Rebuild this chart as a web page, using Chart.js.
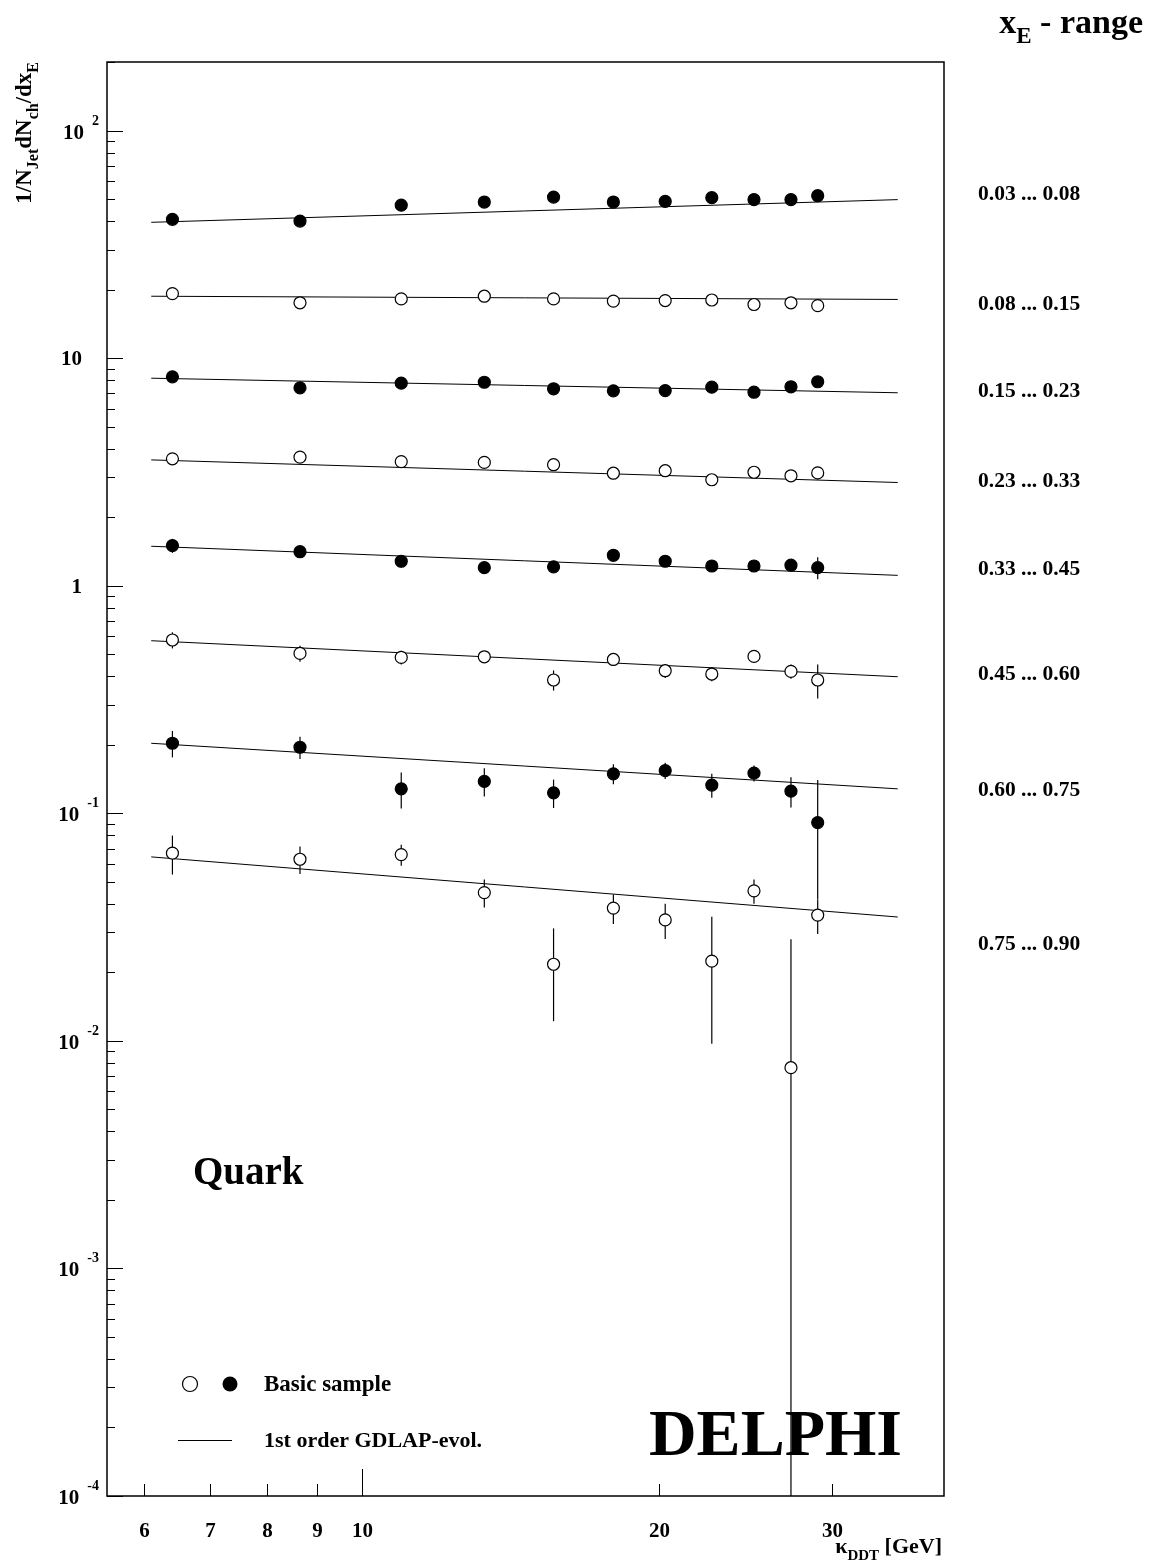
<!DOCTYPE html>
<html>
<head>
<meta charset="utf-8">
<script src="https://cdn.jsdelivr.net/npm/chart.js@4/dist/chart.umd.min.js"></script>
<style>
  html, body { margin: 0; padding: 0; background: #fff; }
  canvas { display: block; }
</style>
</head>
<body>
<canvas id="c" width="1152" height="1568"></canvas>
<script>
"use strict";

// kappa_DDT bin centres [GeV]
const kappa = [6.41, 8.64, 10.95, 13.3, 15.64, 17.99, 20.31, 22.65, 25.0, 27.26, 29.02];
// the GDLAP fit lines are drawn between these two kappa values
const fitKappa = [6.1, 35.0];

const rangeLabels = ["0.03 ... 0.08", "0.08 ... 0.15", "0.15 ... 0.23", "0.23 ... 0.33",
                     "0.33 ... 0.45", "0.45 ... 0.60", "0.60 ... 0.75", "0.75 ... 0.90"];

// 1/N dN/dx_E per x_E range, errors, and fit-line end values
const v0308 = [40.7, 40.0, 47.0, 48.5, 51.0, 48.5, 48.8, 50.7, 49.7, 49.7, 51.7];
const e0308 = [1.0, 1.0, 1.1, 1.1, 1.2, 1.1, 1.1, 1.2, 1.2, 1.2, 1.3];
const f0308 = [39.5, 49.7];

const v0815 = [19.2, 17.5, 18.2, 18.7, 18.2, 17.8, 17.9, 18.0, 17.2, 17.5, 17.0];
const e0815 = [0.4, 0.4, 0.4, 0.4, 0.4, 0.4, 0.4, 0.4, 0.4, 0.4, 0.5];
const f0815 = [18.7, 18.1];

const v1523 = [8.27, 7.40, 7.76, 7.83, 7.33, 7.18, 7.20, 7.45, 7.08, 7.48, 7.87];
const e1523 = [0.18, 0.17, 0.18, 0.18, 0.17, 0.17, 0.17, 0.18, 0.17, 0.18, 0.2];
const f1523 = [8.16, 7.04];

const v2333 = [3.61, 3.67, 3.51, 3.48, 3.40, 3.12, 3.20, 2.92, 3.15, 3.04, 3.13];
const e2333 = [0.12, 0.1, 0.1, 0.1, 0.1, 0.09, 0.1, 0.09, 0.1, 0.1, 0.2];
const f2333 = [3.57, 2.84];

const v3345 = [1.50, 1.41, 1.28, 1.20, 1.21, 1.36, 1.28, 1.22, 1.22, 1.23, 1.20];
const e3345 = [0.106, 0.085, 0.078, 0.06, 0.05, 0.05, 0.05, 0.05, 0.05, 0.05, 0.134];
const f3345 = [1.49, 1.11];

const v4560 = [0.577, 0.504, 0.484, 0.487, 0.385, 0.474, 0.423, 0.409, 0.489, 0.420, 0.385];
const e4560 = [0.047, 0.041, 0.034, 0.025, 0.039, 0.024, 0.030, 0.029, 0.020, 0.030, 0.066];
const f4560 = [0.573, 0.398];

const v6075 = [0.203, 0.195, 0.128, 0.138, 0.123, 0.149, 0.154, 0.133, 0.150, 0.125, 0.091];
const e6075 = [0.027, 0.022, 0.023, 0.0195, 0.0175, 0.015, 0.0125, 0.016, 0.012, 0.019, 0.049];
const f6075 = [0.203, 0.128];

const v7590 = [0.0668, 0.0628, 0.0658, 0.0448, 0.0217, 0.0383, 0.0340, 0.0224, 0.0456, 0.00762, 0.0357];
const e7590 = [0.013, 0.0087, 0.007, 0.0063, 0.0095, 0.0057, 0.006, 0.0127, 0.0056, 0.0203, 0.0062];
const f7590 = [0.0643, 0.0350];

// axis ticks
const xTicks = [6, 7, 8, 9, 10, 20, 30];
const yDecades = [-4, -3, -2, -1, 0, 1, 2];

const series = [
  [v0308, e0308, f0308, true],
  [v0815, e0815, f0815, false],
  [v1523, e1523, f1523, true],
  [v2333, e2333, f2333, false],
  [v3345, e3345, f3345, true],
  [v4560, e4560, f4560, false],
  [v6075, e6075, f6075, true],
  [v7590, e7590, f7590, false]
];

const SERIF = "'Liberation Serif', 'Times New Roman', serif";
const font = (px) => "bold " + px + "px " + SERIF;

const datasets = [];
series.forEach(([vals, errs, fit, filled], k) => {
  datasets.push({
    label: rangeLabels[k],
    data: kappa.map((x, i) => ({ x: x, y: vals[i] })),
    errs: errs,
    pointStyle: "circle",
    pointRadius: 6,
    pointBackgroundColor: filled ? "#000" : "#fff",
    pointBorderColor: "#000",
    pointBorderWidth: 1.2,
    showLine: false,
    order: 0
  });
  datasets.push({
    label: rangeLabels[k] + " fit",
    data: fitKappa.map((x, i) => ({ x: x, y: fit[i] })),
    showLine: true,
    borderColor: "#000",
    borderWidth: 1,
    pointRadius: 0,
    order: 1
  });
});

// text with sub/superscripts: parts = [[text, 0 normal | 1 sub | 2 sup], ...]
function rich(ctx, parts, x, y, size, align) {
  const pieces = parts.map(([t, k]) => {
    const s = k ? Math.round(size * 0.68) : size;
    ctx.font = font(s);
    return { t, s, dy: k === 1 ? size * 0.3 : (k === 2 ? -size * 0.45 : 0), w: ctx.measureText(t).width };
  });
  const total = pieces.reduce((a, p) => a + p.w, 0);
  let cx = align === "right" ? x - total : (align === "center" ? x - total / 2 : x);
  ctx.textAlign = "left";
  ctx.textBaseline = "alphabetic";
  pieces.forEach(p => {
    ctx.font = font(p.s);
    ctx.fillText(p.t, cx, y + p.dy);
    cx += p.w;
  });
}

const errorBars = {
  id: "errorBars",
  beforeDatasetsDraw(chart) {
    const { ctx, chartArea: a, scales: { x, y } } = chart;
    ctx.save();
    ctx.beginPath();
    ctx.rect(a.left, a.top, a.right - a.left, a.bottom - a.top);
    ctx.clip();
    ctx.strokeStyle = "#000";
    ctx.lineWidth = 1.2;
    chart.data.datasets.forEach(ds => {
      if (!ds.errs) return;
      ds.data.forEach((p, i) => {
        const lo = p.y - ds.errs[i];
        const px = x.getPixelForValue(p.x);
        const yTop = y.getPixelForValue(p.y + ds.errs[i]);
        const yBot = lo > 0 ? y.getPixelForValue(lo) : a.bottom;
        ctx.beginPath();
        ctx.moveTo(px, yTop);
        ctx.lineTo(px, yBot);
        ctx.stroke();
      });
    });
    ctx.restore();
  }
};

const frameAndText = {
  id: "frameAndText",
  afterDraw(chart) {
    const { ctx, chartArea: a, scales: { x, y } } = chart;
    ctx.save();
    ctx.fillStyle = "#000";
    ctx.strokeStyle = "#000";

    // frame
    ctx.lineWidth = 1.5;
    ctx.strokeRect(a.left, a.top, a.right - a.left, a.bottom - a.top);

    // y ticks (inside, left) and labels
    ctx.lineWidth = 1;
    yDecades.forEach(d => {
      for (let m = 1; m <= 9; m++) {
        const v = m * Math.pow(10, d);
        if (v > y.max || v < y.min) continue;
        const py = Math.round(y.getPixelForValue(v)) + 0.5;
        ctx.beginPath();
        ctx.moveTo(a.left, py);
        ctx.lineTo(a.left + (m === 1 ? 16 : 8), py);
        ctx.stroke();
      }
      const py = y.getPixelForValue(Math.pow(10, d));
      if (d === 0 || d === 1) {
        rich(ctx, [[d === 0 ? "1" : "10", 0]], 82, py + 7, 21, "right");
      } else {
        const exp = String(d);
        ctx.font = font(14);
        const ew = ctx.measureText(exp).width;
        rich(ctx, [[exp, 0]], 99, py - 6, 14, "right");
        rich(ctx, [["10", 0]], 99 - ew - 8, py + 8, 21, "right");
      }
    });

    // x ticks (inside, bottom) and labels
    xTicks.forEach(t => {
      const px = Math.round(x.getPixelForValue(t)) + 0.5;
      ctx.beginPath();
      ctx.moveTo(px, a.bottom);
      ctx.lineTo(px, a.bottom - (t === 10 ? 27 : 12));
      ctx.stroke();
      rich(ctx, [[String(t), 0]], px, 1537, 21, "center");
    });

    // axis titles
    rich(ctx, [["\u03BA", 0], ["DDT", 1], [" [GeV]", 0]], 942, 1553, 22, "right");
    ctx.save();
    ctx.translate(31, 62);
    ctx.rotate(-Math.PI / 2);
    rich(ctx, [["1/N", 0], ["Jet", 1], ["dN", 0], ["ch", 1], ["/dx", 0], ["E", 1]], 0, 0, 23, "right");
    ctx.restore();

    // range column
    rich(ctx, [["x", 0], ["E", 1], [" - range", 0]], 1143, 33, 34, "right");
    const rangeY = [200, 310, 397, 487, 575, 680, 796, 950];
    rangeLabels.forEach((t, k) => rich(ctx, [[t, 0]], 978, rangeY[k], 21.5, "left"));

    // legend
    ctx.lineWidth = 1.2;
    ctx.beginPath();
    ctx.arc(190, 1384, 7.5, 0, Math.PI * 2);
    ctx.fillStyle = "#fff";
    ctx.fill();
    ctx.stroke();
    ctx.fillStyle = "#000";
    ctx.beginPath();
    ctx.arc(230, 1384, 7.5, 0, Math.PI * 2);
    ctx.fill();
    ctx.lineWidth = 1;
    ctx.beginPath();
    ctx.moveTo(178, 1440.5);
    ctx.lineTo(232, 1440.5);
    ctx.stroke();
    rich(ctx, [["Basic sample", 0]], 264, 1391, 23, "left");
    rich(ctx, [["1st order GDLAP-evol.", 0]], 264, 1447, 22, "left");

    rich(ctx, [["Quark", 0]], 193, 1184, 39, "left");
    rich(ctx, [["DELPHI", 0]], 902, 1455, 66, "right");
    ctx.restore();
  }
};

new Chart(document.getElementById("c").getContext("2d"), {
  type: "scatter",
  data: { datasets: datasets },
  options: {
    responsive: false,
    animation: false,
    devicePixelRatio: 1,
    layout: { padding: { left: 107, right: 208, top: 62, bottom: 72 } },
    plugins: { legend: { display: false }, tooltip: { enabled: false } },
    scales: {
      x: { type: "logarithmic", min: 5.5, max: 39, display: false },
      y: { type: "logarithmic", min: 1e-4, max: 200, display: false }
    }
  },
  plugins: [errorBars, frameAndText]
});
</script>
</body>
</html>
